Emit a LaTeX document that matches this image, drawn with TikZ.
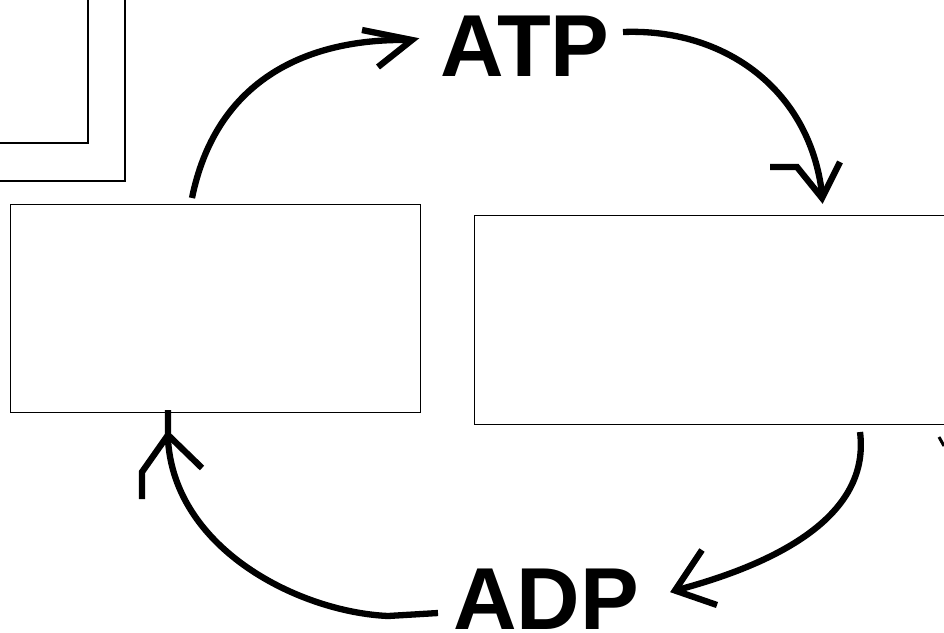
\documentclass[tikz,border=0pt]{standalone}
\usepackage{fontspec}
\setmainfont{Liberation Sans}
\begin{document}
\begin{tikzpicture}[x=1pt,y=-1pt,
  boxline/.style={draw=black,line width=1.4pt},
  cyclearrow/.style={draw=black,line width=6.3pt,line cap=butt},
  headstroke/.style={draw=black,line width=6.3pt,line join=miter,line cap=butt},
  molecule/.style={inner sep=0pt,font=\fontsize{88}{88}\selectfont\bfseries}]
\useasboundingbox (0,0) rectangle (944,632);
\clip (0,0) rectangle (944,632);
\fill[white] (0,0) rectangle (944,632);

% nested frames in the upper left corner
\draw[boxline] (-20,-20) rectangle (125,181);
\draw[boxline] (-20,-20) rectangle (88,143);

% the two reaction boxes
\node[boxline,anchor=north west,minimum width=410pt,minimum height=208pt,inner sep=0pt] (lbox) at (9.5,204) {};
\node[boxline,anchor=north west,minimum width=520pt,minimum height=209pt,inner sep=0pt] (rbox) at (474,214.5) {};

% labels
\node[molecule,anchor=base west] (atp) at (440,76) {ATP};
\node[molecule,anchor=base west] (adp) at (453,629) {ADP};

% connector end points
\coordinate (a1s) at (192,198);
\coordinate (a1e) at (410,40);
\coordinate (a2s) at (623,32);
\coordinate (a2e) at (822,194);
\coordinate (a3s) at (860,432);
\coordinate (a3e) at (677,590);
\coordinate (a4s) at (438,613);
\coordinate (a4m) at (388,616);
\coordinate (a4c) at (168,440);
\coordinate (a4e) at (168,410);

% left box -> ATP
\draw[cyclearrow] (a1s) .. controls (215,85) and (300,38) .. (a1e);
\draw[headstroke] (362,30) -- (412,40) -- (378,67);

% ATP -> right box
\draw[cyclearrow] (a2s) .. controls (725,28) and (810,90) .. (a2e);
\draw[headstroke] (770,167) -- (797,167) -- (822,198) -- (840,162);

% right box -> ADP
\draw[cyclearrow] (a3s) .. controls (870,510) and (790,560) .. (a3e);
\draw[headstroke] (702,550) -- (675,590.5) -- (717,605);

% ADP -> left box
\draw[cyclearrow] (a4s) -- (a4m) .. controls (300,612) and (175,550) .. (a4c) -- (a4e);
\draw[headstroke] (142,499) -- (142,472) -- (168,435) -- (202,468);

% stub of a stroke at the right edge
\draw[black,line width=3pt] (939,437) -- (944,446);
\end{tikzpicture}
\end{document}
